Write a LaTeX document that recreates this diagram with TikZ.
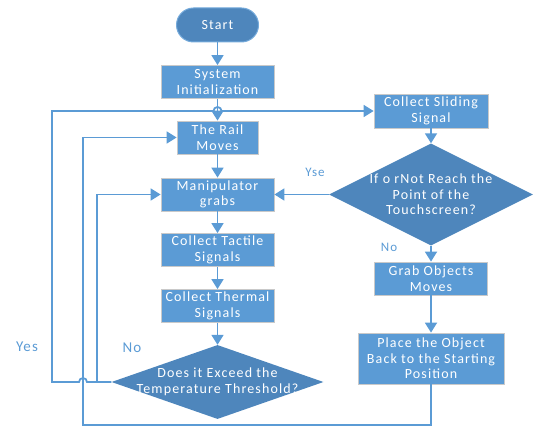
\documentclass[tikz,border=0pt]{standalone}
\usepackage{fontspec}
\usetikzlibrary{shapes.geometric,arrows.meta}
\newfontfamily\flowfont{Carlito}[LetterSpace=8]
\definecolor{boxblue}{HTML}{5B9BD5}
\definecolor{darkblue}{HTML}{4E86BC}
\definecolor{rimgray}{HTML}{C9C9C9}

\begin{document}
\begin{tikzpicture}[x=1pt, y=-1pt,
    >={Triangle[length=10pt,width=12pt]},
    box/.style={draw=rimgray, line width=0.8pt, fill=boxblue, text=white, align=center,
        inner sep=0pt, minimum width=113pt, minimum height=33pt, font=\flowfont\fontsize{14}{15.5}\selectfont},
    decision/.style={diamond, fill=darkblue, inner sep=0pt},
    dtext/.style={text=white, align=center, inner sep=0pt, font=\flowfont\fontsize{14}{15.5}\selectfont},
    flow/.style={->, draw=boxblue, line width=1.8pt},
    tag/.style={text=boxblue, inner sep=0pt, font=\flowfont\fontsize{15}{16}\selectfont},
    smalltag/.style={tag, font=\flowfont\fontsize{13}{14}\selectfont}]
    \useasboundingbox (0,0) rectangle (534,427);

    % main column
    \node[draw=boxblue!85!white, line width=1pt, fill=darkblue, rounded corners=17pt, minimum width=82pt, minimum height=34pt,
        text=white, font=\flowfont\fontsize{14}{15.5}\selectfont] (start) at (217.5,25) {Start};
    \node[box] (init) at (217.5,82) {System\\Initialization};
    \node[box, minimum width=81pt] (rail) at (217.5,137.5) {The Rail\\Moves};
    \node[box] (grab) at (217.5,194.5) {Manipulator\\grabs};
    \node[box] (tactile) at (217.5,250) {Collect Tactile\\Signals};
    \node[box] (thermal) at (217.5,306) {Collect Thermal\\Signals};
    \node[decision, minimum width=212pt, minimum height=74pt,
        label={[dtext]center:Does it Exceed the\\Temperature Threshold?}] (exceed) at (217.5,382) {};

    % right column
    \node[box, minimum width=114pt, minimum height=34pt] (sliding) at (431,111) {Collect Sliding\\Signal};
    \node[decision, minimum width=204pt, minimum height=102pt,
        label={[dtext]center:If o rNot Reach the\\Point of the\\Touchscreen?}] (reach) at (431,194.5) {};
    \node[box] (moveobj) at (431,278.5) {Grab Objects\\Moves};
    \node[box, minimum width=146pt, minimum height=51pt] (place) at (431,358.5) {Place the Object\\Back to the Starting\\Position};

    % branch labels
    \node[tag] (yes) at (27,347) {Yes};
    \node[tag] (no) at (132,348) {No};
    \node[smalltag] (yse) at (315,172) {Yse};
    \node[smalltag] (no2) at (389,247) {No};

    \draw[flow] (start) -- (init);
    \draw[flow] (init) -- (rail);
    \draw[flow] (rail) -- (grab);
    \draw[flow] (grab) -- (tactile);
    \draw[flow] (tactile) -- (thermal);
    \draw[flow] (thermal) -- (exceed);
    \draw[flow] (exceed.west) -- ++(-14,0) |- (grab.west);
    % yes branch hops over the two vertical lines
    \draw[flow] (exceed.west) -- (87,382) arc[start angle=0, end angle=180, radius=4pt] -- (52,382) -- (52,111)
        -- (213.5,111) arc[start angle=180, end angle=0, radius=4pt] -- (sliding.west);
    \draw[flow] (sliding) -- (reach);
    \draw[flow] (reach.west) -- (grab.east);
    \draw[flow] (reach.south) -- (moveobj);
    \draw[flow] (moveobj) -- (place);
    \draw[flow] (place.south) |- (83,425) |- (rail.west);
\end{tikzpicture}
\end{document}
